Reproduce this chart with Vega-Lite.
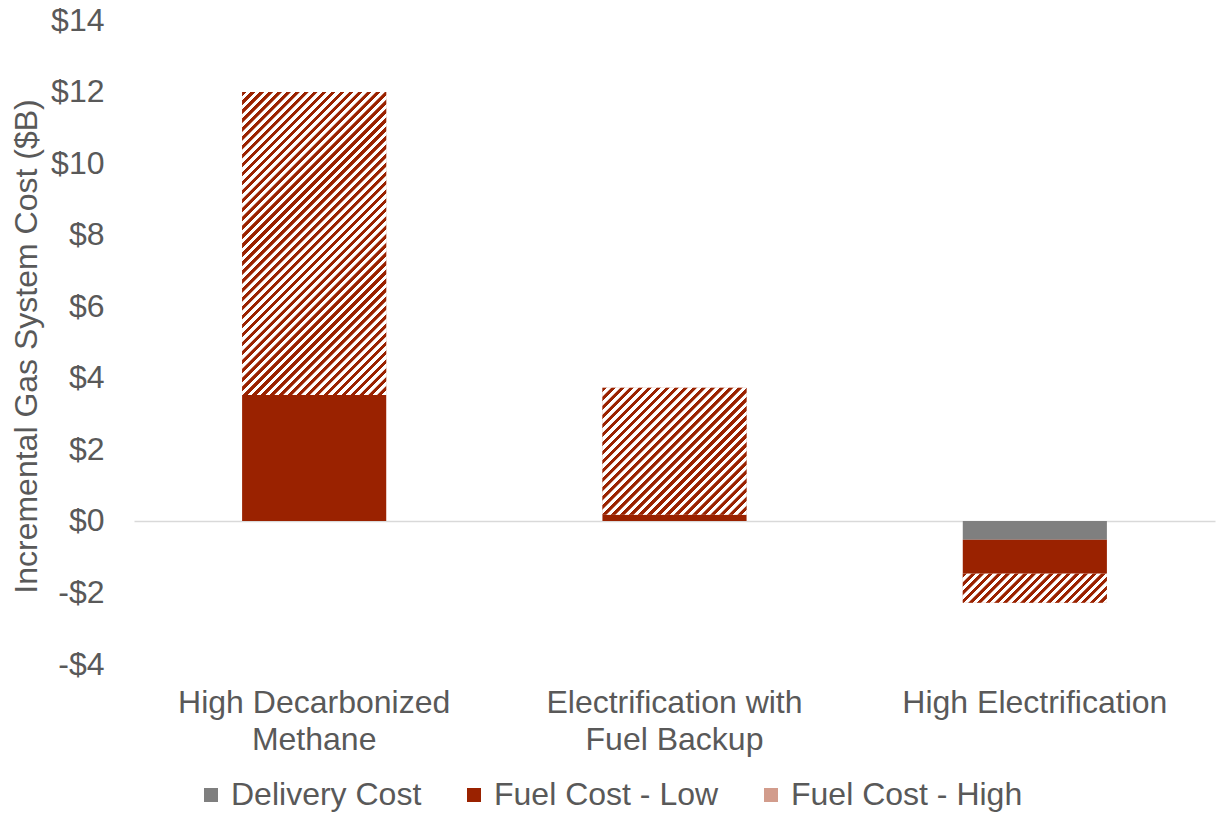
{
  "$schema": "https://vega.github.io/schema/vega-lite/v6.json",
  "width": 1081,
  "height": 644,
  "autosize": {"type": "none"},
  "padding": {"left": 134, "top": 20, "right": 2, "bottom": 149},
  "background": "white",
  "config": {"font": "Liberation Sans", "view": {"stroke": null}},
  "data": {"values": [
    {"category": "High Decarbonized Methane", "series": "Fuel Cost - Low", "ord": 2, "value": 3.52},
    {"category": "High Decarbonized Methane", "series": "Fuel Cost - High", "ord": 3, "value": 8.47},
    {"category": "Electrification with Fuel Backup", "series": "Fuel Cost - Low", "ord": 2, "value": 0.17},
    {"category": "Electrification with Fuel Backup", "series": "Fuel Cost - High", "ord": 3, "value": 3.55},
    {"category": "High Electrification", "series": "Delivery Cost", "ord": 1, "value": -0.53},
    {"category": "High Electrification", "series": "Fuel Cost - Low", "ord": 2, "value": -0.95},
    {"category": "High Electrification", "series": "Fuel Cost - High", "ord": 3, "value": -0.81}
  ]},
  "transform": [
    {"stack": "value", "groupby": ["category"], "sort": [{"field": "ord", "order": "ascending"}], "as": ["v0", "v1"]}
  ],
  "encoding": {
    "x": {
      "field": "category", "type": "nominal", "sort": null,
      "scale": {"domain": ["High Decarbonized Methane", "Electrification with Fuel Backup", "High Electrification"], "paddingInner": 0.6, "paddingOuter": 0.3},
      "axis": {
        "title": null, "domain": false, "ticks": false, "tickSize": 0, "labelPadding": 23, "labelAngle": 0,
        "labelFontSize": 32, "labelColor": "#595959", "labelLineHeight": 37, "labelLimit": 400,
        "labelExpr": "datum.value === 'High Decarbonized Methane' ? ['High Decarbonized', 'Methane'] : datum.value === 'Electrification with Fuel Backup' ? ['Electrification with', 'Fuel Backup'] : datum.value"
      }
    },
    "y": {
      "field": "v0", "type": "quantitative",
      "scale": {"domain": [-4, 14], "nice": false, "zero": false},
      "axis": {
        "values": [-4, -2, 0, 2, 4, 6, 8, 10, 12, 14],
        "labelExpr": "(datum.value < 0 ? '-$' : '$') + abs(datum.value)",
        "grid": true,
        "gridColor": {"condition": {"test": "datum.value === 0", "value": "#d9d9d9"}, "value": "transparent"},
        "gridWidth": 1.5,
        "domain": false, "ticks": false, "tickSize": 0, "labelPadding": 30,
        "labelFontSize": 32, "labelColor": "#595959",
        "title": "Incremental Gas System Cost ($B)", "titleFontSize": 32, "titleFontWeight": "normal", "titleColor": "#595959",
        "titleX": -108, "titleY": 326, "titleAngle": -90, "titleAlign": "center", "titleBaseline": "middle"
      }
    },
    "y2": {"field": "v1"}
  },
  "layer": [
    {
      "mark": {"type": "bar"},
      "encoding": {
        "color": {
          "field": "series", "type": "nominal",
          "scale": {"domain": ["Delivery Cost", "Fuel Cost - Low", "Fuel Cost - High"], "range": ["#7f7f7f", "#9a2200", "#d29c8c"]},
          "legend": {
            "orient": "none", "legendX": 61, "legendY": 759, "direction": "horizontal", "title": null,
            "symbolType": "square", "symbolSize": 196, "symbolStrokeWidth": 0, "symbolOpacity": 1,
            "labelFontSize": 32, "labelColor": "#595959", "labelOffset": 4, "columnPadding": 36, "labelLimit": 400
          }
        }
      }
    },
    {
      "transform": [{"filter": "datum.series === 'Fuel Cost - High' && datum.category === 'High Decarbonized Methane'"}],
      "mark": {"type": "bar", "color": {"gradient": "linear", "x1": 0, "y1": 0, "x2": 0.572, "y2": 1.2035, "stops": [
        {"offset":0,"color":"#9a2200"},{"offset":0.009,"color":"#9a2200"},{"offset":0.01,"color":"#fff"},{"offset":0.019,"color":"#fff"},
        {"offset":0.02,"color":"#9a2200"},{"offset":0.029,"color":"#9a2200"},{"offset":0.03,"color":"#fff"},{"offset":0.039,"color":"#fff"},
        {"offset":0.04,"color":"#9a2200"},{"offset":0.049,"color":"#9a2200"},{"offset":0.05,"color":"#fff"},{"offset":0.059,"color":"#fff"},
        {"offset":0.06,"color":"#9a2200"},{"offset":0.069,"color":"#9a2200"},{"offset":0.07,"color":"#fff"},{"offset":0.079,"color":"#fff"},
        {"offset":0.08,"color":"#9a2200"},{"offset":0.089,"color":"#9a2200"},{"offset":0.09,"color":"#fff"},{"offset":0.099,"color":"#fff"},
        {"offset":0.1,"color":"#9a2200"},{"offset":0.109,"color":"#9a2200"},{"offset":0.11,"color":"#fff"},{"offset":0.119,"color":"#fff"},
        {"offset":0.12,"color":"#9a2200"},{"offset":0.129,"color":"#9a2200"},{"offset":0.13,"color":"#fff"},{"offset":0.139,"color":"#fff"},
        {"offset":0.14,"color":"#9a2200"},{"offset":0.149,"color":"#9a2200"},{"offset":0.15,"color":"#fff"},{"offset":0.159,"color":"#fff"},
        {"offset":0.16,"color":"#9a2200"},{"offset":0.169,"color":"#9a2200"},{"offset":0.17,"color":"#fff"},{"offset":0.179,"color":"#fff"},
        {"offset":0.18,"color":"#9a2200"},{"offset":0.189,"color":"#9a2200"},{"offset":0.19,"color":"#fff"},{"offset":0.199,"color":"#fff"},
        {"offset":0.2,"color":"#9a2200"},{"offset":0.209,"color":"#9a2200"},{"offset":0.21,"color":"#fff"},{"offset":0.219,"color":"#fff"},
        {"offset":0.22,"color":"#9a2200"},{"offset":0.229,"color":"#9a2200"},{"offset":0.23,"color":"#fff"},{"offset":0.239,"color":"#fff"},
        {"offset":0.24,"color":"#9a2200"},{"offset":0.249,"color":"#9a2200"},{"offset":0.25,"color":"#fff"},{"offset":0.259,"color":"#fff"},
        {"offset":0.26,"color":"#9a2200"},{"offset":0.269,"color":"#9a2200"},{"offset":0.27,"color":"#fff"},{"offset":0.279,"color":"#fff"},
        {"offset":0.28,"color":"#9a2200"},{"offset":0.289,"color":"#9a2200"},{"offset":0.29,"color":"#fff"},{"offset":0.299,"color":"#fff"},
        {"offset":0.3,"color":"#9a2200"},{"offset":0.309,"color":"#9a2200"},{"offset":0.31,"color":"#fff"},{"offset":0.319,"color":"#fff"},
        {"offset":0.32,"color":"#9a2200"},{"offset":0.329,"color":"#9a2200"},{"offset":0.33,"color":"#fff"},{"offset":0.339,"color":"#fff"},
        {"offset":0.34,"color":"#9a2200"},{"offset":0.349,"color":"#9a2200"},{"offset":0.35,"color":"#fff"},{"offset":0.359,"color":"#fff"},
        {"offset":0.36,"color":"#9a2200"},{"offset":0.369,"color":"#9a2200"},{"offset":0.37,"color":"#fff"},{"offset":0.379,"color":"#fff"},
        {"offset":0.38,"color":"#9a2200"},{"offset":0.389,"color":"#9a2200"},{"offset":0.39,"color":"#fff"},{"offset":0.399,"color":"#fff"},
        {"offset":0.4,"color":"#9a2200"},{"offset":0.409,"color":"#9a2200"},{"offset":0.41,"color":"#fff"},{"offset":0.419,"color":"#fff"},
        {"offset":0.42,"color":"#9a2200"},{"offset":0.429,"color":"#9a2200"},{"offset":0.43,"color":"#fff"},{"offset":0.439,"color":"#fff"},
        {"offset":0.44,"color":"#9a2200"},{"offset":0.449,"color":"#9a2200"},{"offset":0.45,"color":"#fff"},{"offset":0.459,"color":"#fff"},
        {"offset":0.46,"color":"#9a2200"},{"offset":0.469,"color":"#9a2200"},{"offset":0.47,"color":"#fff"},{"offset":0.479,"color":"#fff"},
        {"offset":0.48,"color":"#9a2200"},{"offset":0.489,"color":"#9a2200"},{"offset":0.49,"color":"#fff"},{"offset":0.499,"color":"#fff"},
        {"offset":0.5,"color":"#9a2200"},{"offset":0.509,"color":"#9a2200"},{"offset":0.51,"color":"#fff"},{"offset":0.519,"color":"#fff"},
        {"offset":0.52,"color":"#9a2200"},{"offset":0.529,"color":"#9a2200"},{"offset":0.53,"color":"#fff"},{"offset":0.539,"color":"#fff"},
        {"offset":0.54,"color":"#9a2200"},{"offset":0.549,"color":"#9a2200"},{"offset":0.55,"color":"#fff"},{"offset":0.559,"color":"#fff"},
        {"offset":0.56,"color":"#9a2200"},{"offset":0.569,"color":"#9a2200"},{"offset":0.57,"color":"#fff"},{"offset":0.579,"color":"#fff"},
        {"offset":0.58,"color":"#9a2200"},{"offset":0.589,"color":"#9a2200"},{"offset":0.59,"color":"#fff"},{"offset":0.599,"color":"#fff"},
        {"offset":0.6,"color":"#9a2200"},{"offset":0.609,"color":"#9a2200"},{"offset":0.61,"color":"#fff"},{"offset":0.619,"color":"#fff"},
        {"offset":0.62,"color":"#9a2200"},{"offset":0.629,"color":"#9a2200"},{"offset":0.63,"color":"#fff"},{"offset":0.639,"color":"#fff"},
        {"offset":0.64,"color":"#9a2200"},{"offset":0.649,"color":"#9a2200"},{"offset":0.65,"color":"#fff"},{"offset":0.659,"color":"#fff"},
        {"offset":0.66,"color":"#9a2200"},{"offset":0.669,"color":"#9a2200"},{"offset":0.67,"color":"#fff"},{"offset":0.679,"color":"#fff"},
        {"offset":0.68,"color":"#9a2200"},{"offset":0.689,"color":"#9a2200"},{"offset":0.69,"color":"#fff"},{"offset":0.699,"color":"#fff"},
        {"offset":0.7,"color":"#9a2200"},{"offset":0.709,"color":"#9a2200"},{"offset":0.71,"color":"#fff"},{"offset":0.719,"color":"#fff"},
        {"offset":0.72,"color":"#9a2200"},{"offset":0.729,"color":"#9a2200"},{"offset":0.73,"color":"#fff"},{"offset":0.739,"color":"#fff"},
        {"offset":0.74,"color":"#9a2200"},{"offset":0.749,"color":"#9a2200"},{"offset":0.75,"color":"#fff"},{"offset":0.759,"color":"#fff"},
        {"offset":0.76,"color":"#9a2200"},{"offset":0.769,"color":"#9a2200"},{"offset":0.77,"color":"#fff"},{"offset":0.779,"color":"#fff"},
        {"offset":0.78,"color":"#9a2200"},{"offset":0.789,"color":"#9a2200"},{"offset":0.79,"color":"#fff"},{"offset":0.799,"color":"#fff"},
        {"offset":0.8,"color":"#9a2200"},{"offset":0.809,"color":"#9a2200"},{"offset":0.81,"color":"#fff"},{"offset":0.819,"color":"#fff"},
        {"offset":0.82,"color":"#9a2200"},{"offset":0.829,"color":"#9a2200"},{"offset":0.83,"color":"#fff"},{"offset":0.839,"color":"#fff"},
        {"offset":0.84,"color":"#9a2200"},{"offset":0.849,"color":"#9a2200"},{"offset":0.85,"color":"#fff"},{"offset":0.859,"color":"#fff"},
        {"offset":0.86,"color":"#9a2200"},{"offset":0.869,"color":"#9a2200"},{"offset":0.87,"color":"#fff"},{"offset":0.879,"color":"#fff"},
        {"offset":0.88,"color":"#9a2200"},{"offset":0.889,"color":"#9a2200"},{"offset":0.89,"color":"#fff"},{"offset":0.899,"color":"#fff"},
        {"offset":0.9,"color":"#9a2200"},{"offset":0.909,"color":"#9a2200"},{"offset":0.91,"color":"#fff"},{"offset":0.919,"color":"#fff"},
        {"offset":0.92,"color":"#9a2200"},{"offset":0.929,"color":"#9a2200"},{"offset":0.93,"color":"#fff"},{"offset":0.939,"color":"#fff"},
        {"offset":0.94,"color":"#9a2200"},{"offset":0.949,"color":"#9a2200"},{"offset":0.95,"color":"#fff"},{"offset":0.959,"color":"#fff"},
        {"offset":0.96,"color":"#9a2200"},{"offset":0.969,"color":"#9a2200"},{"offset":0.97,"color":"#fff"},{"offset":0.979,"color":"#fff"},
        {"offset":0.98,"color":"#9a2200"},{"offset":0.989,"color":"#9a2200"},{"offset":0.99,"color":"#fff"},{"offset":1,"color":"#fff"}
      ]}}
    },
    {
      "transform": [{"filter": "datum.series === 'Fuel Cost - High' && datum.category === 'Electrification with Fuel Backup'"}],
      "mark": {"type": "bar", "color": {"gradient": "linear", "x1": 0, "y1": 0, "x2": 1.1765, "y2": 1.0369, "stops": [
        {"offset":0,"color":"#9a2200"},{"offset":0.0135,"color":"#9a2200"},{"offset":0.015,"color":"#fff"},{"offset":0.0285,"color":"#fff"},
        {"offset":0.03,"color":"#9a2200"},{"offset":0.0435,"color":"#9a2200"},{"offset":0.045,"color":"#fff"},{"offset":0.0585,"color":"#fff"},
        {"offset":0.06,"color":"#9a2200"},{"offset":0.0735,"color":"#9a2200"},{"offset":0.075,"color":"#fff"},{"offset":0.0885,"color":"#fff"},
        {"offset":0.09,"color":"#9a2200"},{"offset":0.1035,"color":"#9a2200"},{"offset":0.105,"color":"#fff"},{"offset":0.1185,"color":"#fff"},
        {"offset":0.12,"color":"#9a2200"},{"offset":0.1335,"color":"#9a2200"},{"offset":0.135,"color":"#fff"},{"offset":0.1485,"color":"#fff"},
        {"offset":0.15,"color":"#9a2200"},{"offset":0.1635,"color":"#9a2200"},{"offset":0.165,"color":"#fff"},{"offset":0.1785,"color":"#fff"},
        {"offset":0.18,"color":"#9a2200"},{"offset":0.1935,"color":"#9a2200"},{"offset":0.195,"color":"#fff"},{"offset":0.2085,"color":"#fff"},
        {"offset":0.21,"color":"#9a2200"},{"offset":0.2235,"color":"#9a2200"},{"offset":0.225,"color":"#fff"},{"offset":0.2385,"color":"#fff"},
        {"offset":0.24,"color":"#9a2200"},{"offset":0.2535,"color":"#9a2200"},{"offset":0.255,"color":"#fff"},{"offset":0.2685,"color":"#fff"},
        {"offset":0.27,"color":"#9a2200"},{"offset":0.2835,"color":"#9a2200"},{"offset":0.285,"color":"#fff"},{"offset":0.2985,"color":"#fff"},
        {"offset":0.3,"color":"#9a2200"},{"offset":0.3135,"color":"#9a2200"},{"offset":0.315,"color":"#fff"},{"offset":0.3285,"color":"#fff"},
        {"offset":0.33,"color":"#9a2200"},{"offset":0.3435,"color":"#9a2200"},{"offset":0.345,"color":"#fff"},{"offset":0.3585,"color":"#fff"},
        {"offset":0.36,"color":"#9a2200"},{"offset":0.3735,"color":"#9a2200"},{"offset":0.375,"color":"#fff"},{"offset":0.3885,"color":"#fff"},
        {"offset":0.39,"color":"#9a2200"},{"offset":0.4035,"color":"#9a2200"},{"offset":0.405,"color":"#fff"},{"offset":0.4185,"color":"#fff"},
        {"offset":0.42,"color":"#9a2200"},{"offset":0.4335,"color":"#9a2200"},{"offset":0.435,"color":"#fff"},{"offset":0.4485,"color":"#fff"},
        {"offset":0.45,"color":"#9a2200"},{"offset":0.4635,"color":"#9a2200"},{"offset":0.465,"color":"#fff"},{"offset":0.4785,"color":"#fff"},
        {"offset":0.48,"color":"#9a2200"},{"offset":0.4935,"color":"#9a2200"},{"offset":0.495,"color":"#fff"},{"offset":0.5085,"color":"#fff"},
        {"offset":0.51,"color":"#9a2200"},{"offset":0.5235,"color":"#9a2200"},{"offset":0.525,"color":"#fff"},{"offset":0.5385,"color":"#fff"},
        {"offset":0.54,"color":"#9a2200"},{"offset":0.5535,"color":"#9a2200"},{"offset":0.555,"color":"#fff"},{"offset":0.5685,"color":"#fff"},
        {"offset":0.57,"color":"#9a2200"},{"offset":0.5835,"color":"#9a2200"},{"offset":0.585,"color":"#fff"},{"offset":0.5985,"color":"#fff"},
        {"offset":0.6,"color":"#9a2200"},{"offset":0.6135,"color":"#9a2200"},{"offset":0.615,"color":"#fff"},{"offset":0.6285,"color":"#fff"},
        {"offset":0.63,"color":"#9a2200"},{"offset":0.6435,"color":"#9a2200"},{"offset":0.645,"color":"#fff"},{"offset":0.6585,"color":"#fff"},
        {"offset":0.66,"color":"#9a2200"},{"offset":0.6735,"color":"#9a2200"},{"offset":0.675,"color":"#fff"},{"offset":0.6885,"color":"#fff"},
        {"offset":0.69,"color":"#9a2200"},{"offset":0.7035,"color":"#9a2200"},{"offset":0.705,"color":"#fff"},{"offset":0.7185,"color":"#fff"},
        {"offset":0.72,"color":"#9a2200"},{"offset":0.7335,"color":"#9a2200"},{"offset":0.735,"color":"#fff"},{"offset":0.7485,"color":"#fff"},
        {"offset":0.75,"color":"#9a2200"},{"offset":0.7635,"color":"#9a2200"},{"offset":0.765,"color":"#fff"},{"offset":0.7785,"color":"#fff"},
        {"offset":0.78,"color":"#9a2200"},{"offset":0.7935,"color":"#9a2200"},{"offset":0.795,"color":"#fff"},{"offset":0.8085,"color":"#fff"},
        {"offset":0.81,"color":"#9a2200"},{"offset":0.8235,"color":"#9a2200"},{"offset":0.825,"color":"#fff"},{"offset":0.8385,"color":"#fff"},
        {"offset":0.84,"color":"#9a2200"},{"offset":0.8535,"color":"#9a2200"},{"offset":0.855,"color":"#fff"},{"offset":0.8685,"color":"#fff"},
        {"offset":0.87,"color":"#9a2200"},{"offset":0.8835,"color":"#9a2200"},{"offset":0.885,"color":"#fff"},{"offset":0.8985,"color":"#fff"},
        {"offset":0.9,"color":"#9a2200"},{"offset":0.9135,"color":"#9a2200"},{"offset":0.915,"color":"#fff"},{"offset":1,"color":"#fff"}
      ]}}
    },
    {
      "transform": [{"filter": "datum.series === 'Fuel Cost - High' && datum.category === 'High Electrification'"}],
      "mark": {"type": "bar", "color": {"gradient": "linear", "x1": 0, "y1": 0, "x2": 1.1546, "y2": 0.2325, "stops": [
        {"offset":0,"color":"#9a2200"},{"offset":0.0225,"color":"#9a2200"},{"offset":0.025,"color":"#fff"},{"offset":0.0475,"color":"#fff"},
        {"offset":0.05,"color":"#9a2200"},{"offset":0.0725,"color":"#9a2200"},{"offset":0.075,"color":"#fff"},{"offset":0.0975,"color":"#fff"},
        {"offset":0.1,"color":"#9a2200"},{"offset":0.1225,"color":"#9a2200"},{"offset":0.125,"color":"#fff"},{"offset":0.1475,"color":"#fff"},
        {"offset":0.15,"color":"#9a2200"},{"offset":0.1725,"color":"#9a2200"},{"offset":0.175,"color":"#fff"},{"offset":0.1975,"color":"#fff"},
        {"offset":0.2,"color":"#9a2200"},{"offset":0.2225,"color":"#9a2200"},{"offset":0.225,"color":"#fff"},{"offset":0.2475,"color":"#fff"},
        {"offset":0.25,"color":"#9a2200"},{"offset":0.2725,"color":"#9a2200"},{"offset":0.275,"color":"#fff"},{"offset":0.2975,"color":"#fff"},
        {"offset":0.3,"color":"#9a2200"},{"offset":0.3225,"color":"#9a2200"},{"offset":0.325,"color":"#fff"},{"offset":0.3475,"color":"#fff"},
        {"offset":0.35,"color":"#9a2200"},{"offset":0.3725,"color":"#9a2200"},{"offset":0.375,"color":"#fff"},{"offset":0.3975,"color":"#fff"},
        {"offset":0.4,"color":"#9a2200"},{"offset":0.4225,"color":"#9a2200"},{"offset":0.425,"color":"#fff"},{"offset":0.4475,"color":"#fff"},
        {"offset":0.45,"color":"#9a2200"},{"offset":0.4725,"color":"#9a2200"},{"offset":0.475,"color":"#fff"},{"offset":0.4975,"color":"#fff"},
        {"offset":0.5,"color":"#9a2200"},{"offset":0.5225,"color":"#9a2200"},{"offset":0.525,"color":"#fff"},{"offset":0.5475,"color":"#fff"},
        {"offset":0.55,"color":"#9a2200"},{"offset":0.5725,"color":"#9a2200"},{"offset":0.575,"color":"#fff"},{"offset":0.5975,"color":"#fff"},
        {"offset":0.6,"color":"#9a2200"},{"offset":0.6225,"color":"#9a2200"},{"offset":0.625,"color":"#fff"},{"offset":0.6475,"color":"#fff"},
        {"offset":0.65,"color":"#9a2200"},{"offset":0.6725,"color":"#9a2200"},{"offset":0.675,"color":"#fff"},{"offset":0.6975,"color":"#fff"},
        {"offset":0.7,"color":"#9a2200"},{"offset":0.7225,"color":"#9a2200"},{"offset":0.725,"color":"#fff"},{"offset":0.7475,"color":"#fff"},
        {"offset":0.75,"color":"#9a2200"},{"offset":0.7725,"color":"#9a2200"},{"offset":0.775,"color":"#fff"},{"offset":0.7975,"color":"#fff"},
        {"offset":0.8,"color":"#9a2200"},{"offset":0.8225,"color":"#9a2200"},{"offset":0.825,"color":"#fff"},{"offset":0.8475,"color":"#fff"},
        {"offset":0.85,"color":"#9a2200"},{"offset":0.8725,"color":"#9a2200"},{"offset":0.875,"color":"#fff"},{"offset":0.8975,"color":"#fff"},
        {"offset":0.9,"color":"#9a2200"},{"offset":0.9225,"color":"#9a2200"},{"offset":0.925,"color":"#fff"},{"offset":0.9475,"color":"#fff"},
        {"offset":0.95,"color":"#9a2200"},{"offset":0.9725,"color":"#9a2200"},{"offset":0.975,"color":"#fff"},{"offset":1,"color":"#fff"}
      ]}}
    }
  ]
}
